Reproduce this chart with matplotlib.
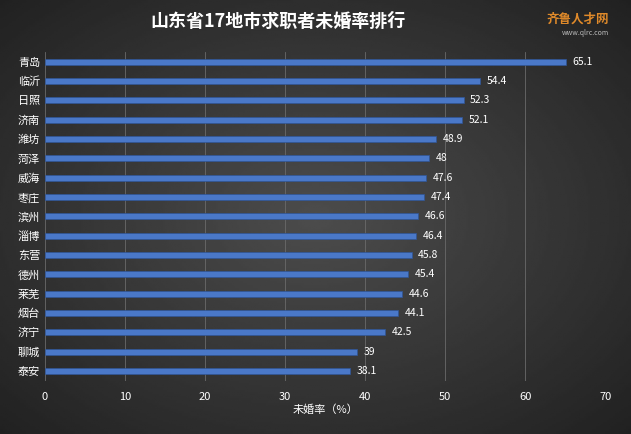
import numpy as np
import matplotlib.pyplot as plt

plt.rcParams['font.family'] = 'sans-serif'
plt.rcParams['font.sans-serif'] = ['Noto Sans CJK SC', 'Noto Sans CJK JP', 'Noto Sans CJK TC',
                                   'Noto Sans CJK KR', 'DejaVu Sans']

cities = ['青岛', '临沂', '日照', '济南', '潍坊', '菏泽', '威海', '枣庄', '滨州',
          '淄博', '东营', '德州', '莱芜', '烟台', '济宁', '聊城', '泰安']
rates = [65.1, 54.4, 52.3, 52.1, 48.9, 48, 47.6, 47.4, 46.6,
         46.4, 45.8, 45.4, 44.6, 44.1, 42.5, 39, 38.1]
labels = ['65.1', '54.4', '52.3', '52.1', '48.9', '48', '47.6', '47.4', '46.6',
          '46.4', '45.8', '45.4', '44.6', '44.1', '42.5', '39', '38.1']

fig = plt.figure(figsize=(6.31, 4.34), dpi=100)

# background radial gradient
bg = fig.add_axes([0, 0, 1, 1], zorder=-1)
yy, xx = np.mgrid[-1:1:200j, -1:1:300j]
r = np.sqrt(xx**2 + yy**2)
bg.imshow(0.30 - 0.12 * r, cmap='gray', vmin=0, vmax=1, aspect='auto')
bg.axis('off')

ax = fig.add_axes([0.0713, 0.123, 0.888, 0.757])
ax.set_facecolor('none')
y = np.arange(len(cities))
ax.barh(y, rates, height=0.32, color='#4a78c8', edgecolor='#2f5597', linewidth=0.5)
for yi, v, t in zip(y, rates, labels):
    ax.text(v + 0.8, yi, t, color='white', fontsize=7.5, va='center')

ax.set_xlim(0, 70)
ax.set_ylim(len(cities) - 0.5, -0.5)
ax.set_xticks(range(0, 71, 10))
ax.set_yticks(y)
ax.set_yticklabels(cities)
ax.tick_params(colors='white', labelsize=8, length=0)
ax.tick_params(axis='x', pad=8)
ax.grid(axis='x', color='#6a6a6a', linewidth=0.6)
ax.set_axisbelow(True)
for s in ax.spines.values():
    s.set_visible(False)
ax.set_xlabel('未婚率（%）', color='white', fontsize=8, labelpad=2)

fig.text(0.44, 0.95, '山东省17地市求职者未婚率排行', color='white', fontsize=13,
         fontweight='bold', ha='center', va='center')
fig.text(0.965, 0.955, '齐鲁人才网', color='#e08a2a', fontsize=9, ha='right',
         va='center', fontweight='bold')
fig.text(0.965, 0.925, 'www.qlrc.com', color='#bbbbbb', fontsize=5, ha='right', va='center')

fig.savefig('out.png', dpi=100)
